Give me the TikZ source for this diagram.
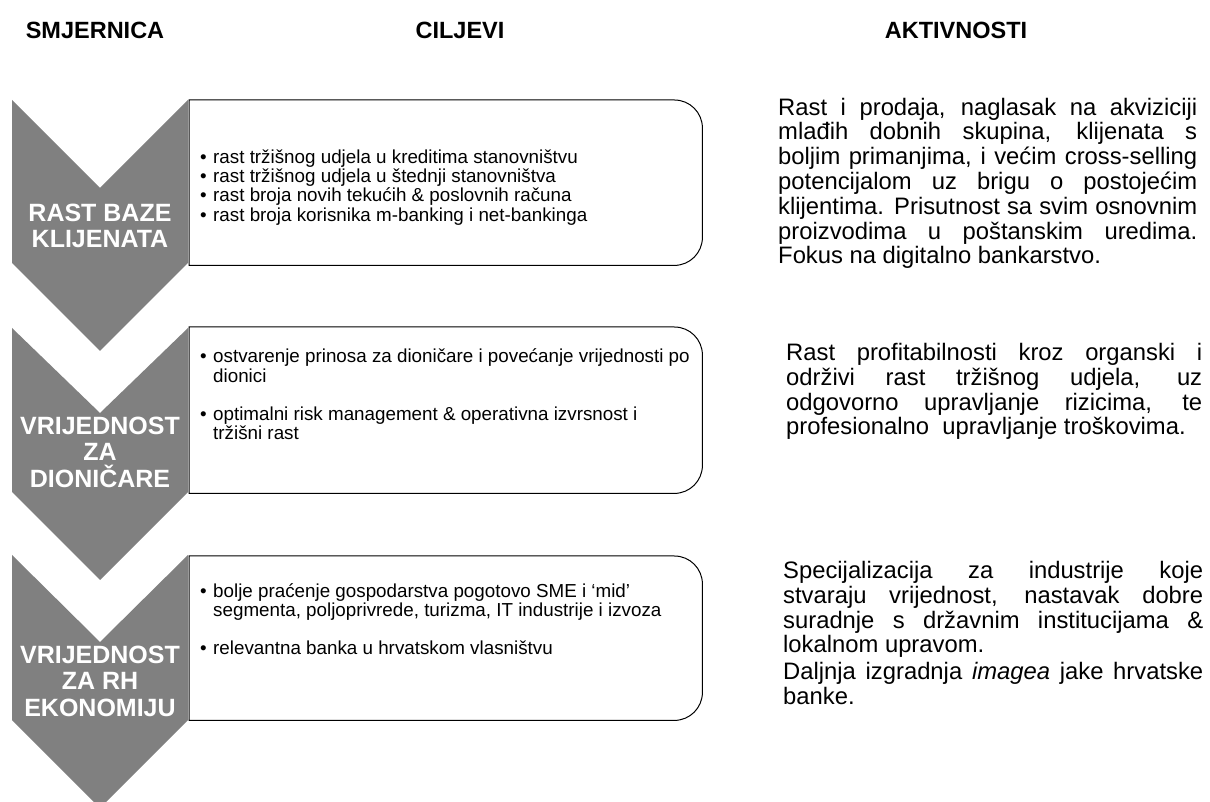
\documentclass[tikz,border=0pt]{standalone}
\usepackage{fontspec}
\setmainfont{Liberation Sans}
\definecolor{chev}{RGB}{128,128,128}
\newcommand{\bitem}{\makebox[13pt][l]{\textbullet}}
\newcommand{\bindent}{\hspace*{13pt}}
\newcommand{\jlA}[1]{\makebox[419pt][s]{#1}}
\newcommand{\jlB}[1]{\makebox[416pt][s]{#1}}
\newcommand{\jlC}[1]{\makebox[420pt][s]{#1}}
\begin{document}
\begin{tikzpicture}[x=1pt,y=1pt,
  chevshape/.style={fill=chev,draw=none},
  chevtext/.style={text=white,font=\fontsize{25}{26.5}\selectfont\bfseries,align=center,inner sep=0pt},
  boxframe/.style={draw=none,fill=none,inner sep=0pt,anchor=north west,minimum width=513pt},
  boxline/.style={draw=black,line width=1pt,fill=white},
  boxtext/.style={font=\fontsize{18.8}{19.2}\selectfont,align=left,inner sep=0pt,anchor=base west},
  acttext/.style={font=\fontsize{23.8}{24.8}\selectfont,align=left,inner sep=0pt,anchor=base west},
  headtext/.style={font=\fontsize{23.5}{25}\selectfont\bfseries,inner sep=0pt,anchor=base}]
\useasboundingbox (0,0) rectangle (1210,801);
\clip (0,0) rectangle (1210,801);
\fill[white] (0,0) rectangle (1210,801);

% headers
\node[headtext] (h1) at (95,762) {SMJERNICA};
\node[headtext] (h2) at (460,762) {CILJEVI};
\node[headtext] (h3) at (956,762) {AKTIVNOSTI};

% chevrons
\path[chevshape] (12,701) -- (100,613) -- (188,701) -- (188,538) -- (100,450) -- (12,538) -- cycle;
\path[chevshape] (12,473) -- (100,388) -- (188,473) -- (188,309) -- (100,221) -- (12,309) -- cycle;
\path[chevshape] (12,246) -- (100,159) -- (188,246) -- (188,81) -- (100,-7) -- (12,81) -- cycle;

\node[chevtext] (c1) at (100,575) {RAST BAZE\\KLIJENATA};
\node[chevtext] (c2) at (100,349) {VRIJEDNOST\\ZA\\DIONIČARE};
\node[chevtext] (c3) at (100,120) {VRIJEDNOST\\ZA RH\\EKONOMIJU};

% boxes
\node[boxframe,minimum height=165pt] (b1) at (189,701) {};
\node[boxframe,minimum height=166pt] (b2) at (189,474) {};
\node[boxframe,minimum height=164pt] (b3) at (189,245) {};
\foreach \b in {b1,b2,b3}{
  \draw[boxline] (\b.north west) -- ([xshift=-28pt]\b.north east)
    arc[start angle=90,end angle=0,radius=28pt] -- ([yshift=28pt]\b.south east)
    arc[start angle=0,end angle=-90,radius=28pt] -- (\b.south west) -- cycle;
}

% (base anchor of a multi-line node = baseline of its last line)
\node[boxtext] (t1) at (200,579.9) {\bitem rast tržišnog udjela u kreditima stanovništvu\\
\bitem rast tržišnog udjela u štednji stanovništva\\
\bitem rast broja novih tekućih \& poslovnih računa\\
\bitem rast broja korisnika m-banking i net-bankinga};

\node[boxtext] (t2) at (200,361.2) {\bitem ostvarenje prinosa za dioničare i povećanje vrijednosti po\\
\bindent dionici\\[19.2pt]
\bitem optimalni risk management \& operativna izvrsnost i\\
\bindent tržišni rast};

\node[boxtext] (t3) at (200,146.4) {\bitem bolje praćenje gospodarstva pogotovo SME i ‘mid’\\
\bindent segmenta, poljoprivrede, turizma, IT industrije i izvoza\\[19.2pt]
\bitem relevantna banka u hrvatskom vlasništvu};

% activities
\node[acttext] (a1) at (778,537) {\jlA{Rast i prodaja, naglasak na akviziciji}\\
\jlA{mlađih dobnih skupina, klijenata s}\\
\jlA{boljim primanjima, i većim cross-selling}\\
\jlA{potencijalom uz brigu o postojećim}\\
\jlA{klijentima. Prisutnost sa svim osnovnim}\\
\jlA{proizvodima u poštanskim uredima.}\\
Fokus na digitalno bankarstvo.};

\node[acttext] (a2) at (786,366) {\jlB{Rast profitabilnosti kroz organski i}\\
\jlB{održivi rast tržišnog udjela, uz}\\
\jlB{odgovorno upravljanje rizicima, te}\\
profesionalno\ \ upravljanje troškovima.};

\node[acttext] (a3) at (783,97) {\jlC{Specijalizacija za industrije koje}\\
\jlC{stvaraju vrijednost, nastavak dobre}\\
\jlC{suradnje s državnim institucijama \&}\\
lokalnom upravom.\\[1.5pt]
\jlC{Daljnja izgradnja \textit{imagea} jake hrvatske}\\
banke.};
\end{tikzpicture}
\end{document}
